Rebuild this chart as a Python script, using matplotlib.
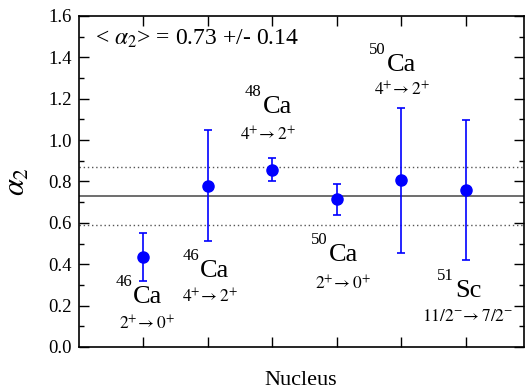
import matplotlib
matplotlib.use("Agg")
import matplotlib.pyplot as plt
from matplotlib.ticker import MultipleLocator

plt.rcParams['font.family'] = ['Liberation Serif', 'DejaVu Serif']
plt.rcParams['mathtext.fontset'] = 'stix'

# data
nucleus_x = [1, 2, 3, 4, 5, 6]
alpha2 = [0.435, 0.78, 0.857, 0.713, 0.805, 0.76]
alpha2_err = [0.115, 0.268, 0.057, 0.076, 0.35, 0.338]
mean_alpha = 0.73
mean_err = 0.14

mass_nums = ['46', '46', '48', '50', '50', '51']
elements = ['Ca', 'Ca', 'Ca', 'Ca', 'Ca', 'Sc']
transitions = [r'$2^{+}\!\rightarrow 0^{+}$', r'$4^{+}\!\rightarrow 2^{+}$',
               r'$4^{+}\!\rightarrow 2^{+}$', r'$2^{+}\!\rightarrow 0^{+}$',
               r'$4^{+}\!\rightarrow 2^{+}$', r'$11/2^{-}\!\rightarrow 7/2^{-}$']

# label placement (element left edge, baseline, transition centre, baseline)
elem_pos = [(0.846, 0.213), (1.887, 0.338), (2.849, 1.131),
            (3.874, 0.416), (4.775, 1.334), (5.831, 0.242)]
trans_pos = [(1.064, 0.087), (2.04, 0.213), (2.94, 0.996),
             (4.09, 0.280), (5.01, 1.218), (6.03, 0.126)]

fig = plt.figure(figsize=(5.27, 3.89), dpi=100)
ax = fig.add_axes([0.149, 0.108, 0.845, 0.851])

ax.axhline(mean_alpha, color='#555555', lw=1.2, zorder=1)
ax.axhline(mean_alpha + mean_err, color='#555555', lw=1, ls=(0, (1, 2)), zorder=1)
ax.axhline(mean_alpha - mean_err, color='#555555', lw=1, ls=(0, (1, 2)), zorder=1)

ax.errorbar(nucleus_x, alpha2, yerr=alpha2_err, fmt='o', color='#0000ff',
            ms=8, capsize=3.2, elinewidth=1.2, capthick=1.2, zorder=3)

for i in range(len(nucleus_x)):
    ex, ey = elem_pos[i]
    ax.text(ex, ey, elements[i], fontsize=19, ha='left', va='baseline')
    ax.annotate(mass_nums[i], xy=(ex, ey), xytext=(-0.5, 12.5),
                textcoords='offset points', fontsize=12,
                ha='right', va='baseline')
    tx, ty = trans_pos[i]
    ax.text(tx, ty, transitions[i], fontsize=12.5, ha='center', va='baseline')

ax.text(0.037, 0.912, r'< $\alpha_2$> = 0.73 +/- 0.14', transform=ax.transAxes,
        fontsize=17, ha='left', va='baseline')

ax.set_xlim(0, 6.9)
ax.set_ylim(0, 1.6)
ax.set_xticks(nucleus_x)
ax.set_xticklabels([])
ax.yaxis.set_major_locator(MultipleLocator(0.2))
ax.yaxis.set_minor_locator(MultipleLocator(0.1))
ax.set_yticklabels([f'{v:.1f}' for v in ax.get_yticks()])
ax.tick_params(which='both', direction='in', top=True, right=True, labelsize=13.5)
ax.tick_params(which='major', length=7, width=1, pad=5)
ax.tick_params(which='minor', length=3.5, width=1)
for s in ax.spines.values():
    s.set_linewidth(1.2)

ax.set_xlabel('Nucleus', fontsize=16, labelpad=12)
ax.set_ylabel(r'$\alpha_2$', fontsize=22, labelpad=12)

fig.savefig('out.png', dpi=100)
